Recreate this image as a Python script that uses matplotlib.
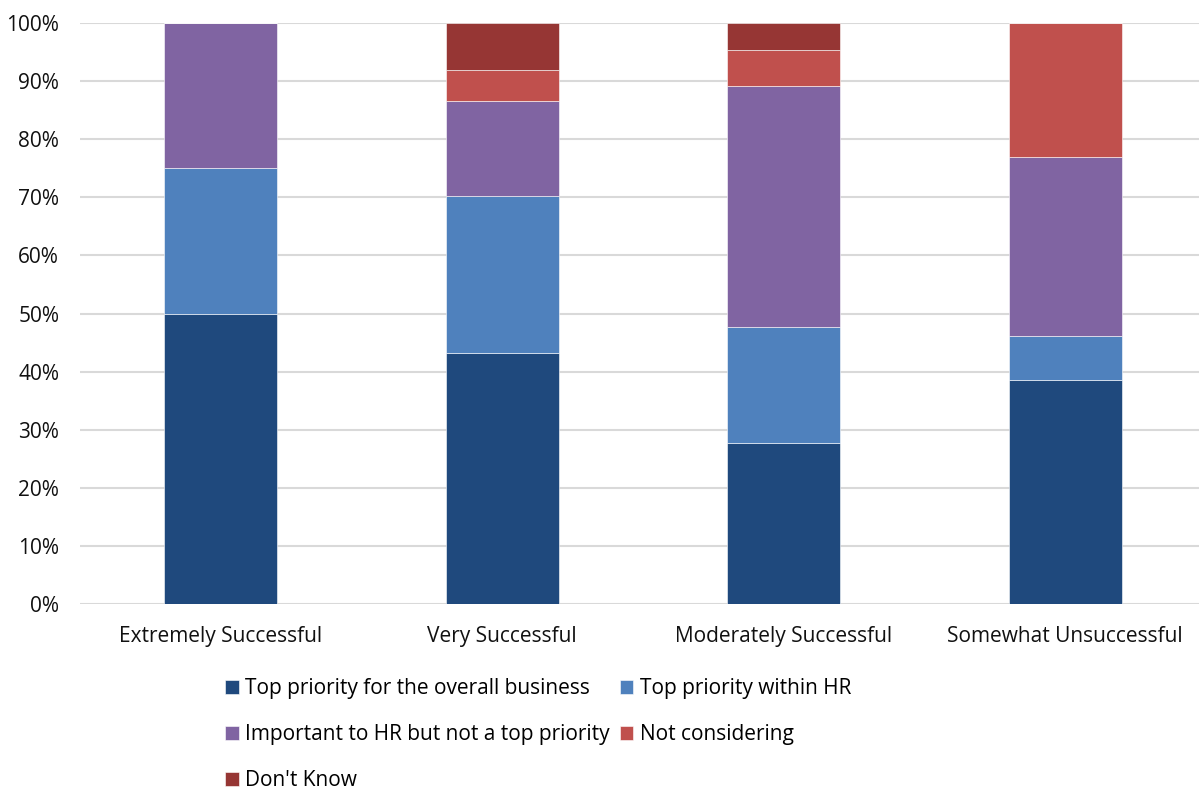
import numpy as np
import matplotlib.pyplot as plt
from matplotlib.ticker import PercentFormatter

plt.rcParams['font.family'] = ['Open Sans', 'DejaVu Sans']

categories = ['Extremely Successful', 'Very Successful',
              'Moderately Successful', 'Somewhat Unsuccessful']
series = ['Top priority for the overall business', 'Top priority within HR',
          'Important to HR but not a top priority', 'Not considering',
          "Don't Know"]
# shares per category, in percent
top_business = [50.0, 43.2, 27.7, 38.5]
top_hr = [25.0, 27.1, 20.0, 7.7]
important_hr = [25.0, 16.2, 41.5, 30.8]
not_considering = [0.0, 5.4, 6.2, 23.0]
dont_know = [0.0, 8.1, 4.6, 0.0]
colors = ['#1F497D', '#4F81BD', '#8064A2', '#C0504D', '#963634']

values = [top_business, top_hr, important_hr, not_considering, dont_know]

fig = plt.figure(figsize=(11.99, 7.89), dpi=100)
ax = fig.add_axes([80 / 1199, 185 / 789, 1126 / 1199, 581 / 789])

x = np.arange(len(categories))
bottom = np.zeros(len(categories))
handles = []
for vals, name, c in zip(values, series, colors):
    b = ax.bar(x, vals, 0.4, bottom=bottom, color=c, label=name,
               edgecolor='white', linewidth=0.4, zorder=3)
    handles.append(b)
    bottom += np.array(vals)

ax.set_xlim(-0.5, 3.5)
ax.set_ylim(0, 100)
ax.set_yticks(np.arange(0, 101, 10))
ax.yaxis.set_major_formatter(PercentFormatter(decimals=0))
ax.set_xticks(x)
ax.set_xticklabels(categories)
ax.grid(axis='y', color='#D9D9D9', linewidth=1.5, zorder=0)
ax.tick_params(length=0, labelsize=15, colors='#111111')
ax.tick_params(axis='x', pad=16)
ax.tick_params(axis='y', pad=15)
for s in ax.spines.values():
    s.set_visible(False)

order = [0, 2, 4, 1, 3]
fig.legend([handles[i] for i in order], [series[i] for i in order],
           ncol=2, loc='upper left', bbox_to_anchor=(225 / 1199, 1 - 678 / 789),
           frameon=False, fontsize=15, handlelength=0.65, handleheight=0.65,
           handletextpad=0.3, columnspacing=0.5, labelspacing=1.2,
           borderpad=0, borderaxespad=0)

fig.savefig('out.png', dpi=100)
